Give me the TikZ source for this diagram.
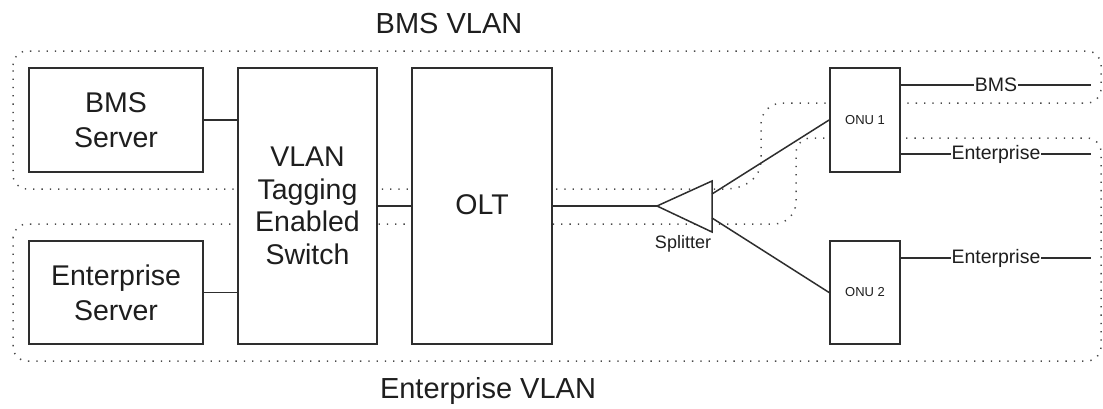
\documentclass[tikz,border=0pt]{standalone}
\usepackage{fontspec}
\setmainfont{Liberation Sans}
\definecolor{ink}{HTML}{2E2E2E}
\definecolor{txt}{HTML}{1E1E1E}
\definecolor{dotc}{HTML}{4A4A4A}
\begin{document}
\begin{tikzpicture}[x=1pt,y=1pt,
  box/.style={draw=ink,line width=1.8pt,fill=white,inner sep=0pt,align=center,text=txt},
  bigtxt/.style={font=\fontsize{28.5}{35}\selectfont},
  wire/.style={draw=ink,line width=1.5pt},
  vlan/.style={draw=dotc,line width=1.5pt,dash pattern=on 1.3pt off 7pt},
  linelabel/.style={fill=white,inner sep=1pt,text=txt,font=\fontsize{19.5}{22}\selectfont},
  title/.style={text=txt,font=\fontsize{29}{35}\selectfont,anchor=base}]
\useasboundingbox (0,0) rectangle (1103,-408);

% VLAN regions (dotted outlines)
\draw[vlan] (13,-65) arc[start angle=180,end angle=90,radius=14]
  -- (1087,-51) arc[start angle=90,end angle=0,radius=14]
  -- (1101,-89) arc[start angle=0,end angle=-90,radius=14]
  -- (782,-103) arc[start angle=90,end angle=180,radius=21]
  -- (761,-160) .. controls (761,-178) and (745,-189) .. (725,-189)
  -- (27,-189) arc[start angle=270,end angle=180,radius=14] -- cycle;
\draw[vlan] (13,-238) arc[start angle=180,end angle=90,radius=14]
  -- (774,-224) arc[start angle=-90,end angle=0,radius=22]
  -- (796,-153) arc[start angle=180,end angle=90,radius=15]
  -- (1087,-138) arc[start angle=90,end angle=0,radius=14]
  -- (1101,-347) arc[start angle=0,end angle=-90,radius=14]
  -- (27,-361) arc[start angle=270,end angle=180,radius=14] -- cycle;

\node[title] (bmsvlan) at (449,-33) {BMS VLAN};
\node[title] (entvlan) at (488,-398) {Enterprise VLAN};

% equipment
\node[box,bigtxt,minimum width=174pt,minimum height=104pt] (bms) at (116,-120) {BMS\\Server};
\node[box,bigtxt,minimum width=174pt,minimum height=103pt] (ent) at (116,-292.5) {Enterprise\\Server};
\node[box,font=\fontsize{28.5}{32.5}\selectfont,minimum width=139pt,minimum height=276pt] (sw) at (307.5,-206) {VLAN\\Tagging\\Enabled\\Switch};
\node[box,bigtxt,minimum width=140pt,minimum height=276pt] (olt) at (482,-206) {\raisebox{3pt}{OLT}};
\node[box,font=\fontsize{13}{15}\selectfont,minimum width=70pt,minimum height=104pt] (onu1) at (865,-120) {ONU 1};
\node[box,font=\fontsize{13}{15}\selectfont,minimum width=70pt,minimum height=103pt] (onu2) at (865,-292.5) {ONU 2};

% splitter
\coordinate (spA) at (657,-206);
\coordinate (spT) at (712,-194);
\coordinate (spB) at (712,-218);
\draw[draw=ink,line width=1.5pt,fill=white,line join=miter] (spA) -- (712,-181) -- (712,-232) -- cycle;
\node[text=txt,font=\fontsize{18}{20}\selectfont,anchor=base] (splab) at (683,-248) {Splitter};

% links
\draw[wire] (bms.east) -- (bms.east -| sw.west);
\draw[wire] (ent.east) -- (ent.east -| sw.west);
\draw[wire] (sw.east) -- (olt.west);
\draw[wire] (olt.east) -- (spA);
\draw[wire] (spT) -- (onu1.west);
\draw[wire] (spB) -- (onu2.west);

% subscriber ports
\coordinate (p1) at (1091,-85);
\coordinate (p2) at (1091,-154);
\coordinate (p3) at (1091,-258);
\draw[wire] (onu1.east |- p1) -- (p1) node[linelabel,midway] {BMS};
\draw[wire] (onu1.east |- p2) -- (p2) node[linelabel,midway] {Enterprise};
\draw[wire] (onu2.east |- p3) -- (p3) node[linelabel,midway] {Enterprise};
\end{tikzpicture}
\end{document}
